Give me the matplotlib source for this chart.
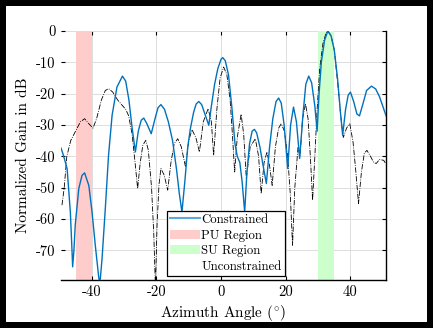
import matplotlib
matplotlib.use("Agg")
import matplotlib.pyplot as plt
from matplotlib.patches import Rectangle, Patch
from matplotlib.lines import Line2D
from matplotlib.ticker import FuncFormatter

plt.rcParams['font.family'] = ['cmr10', 'DejaVu Serif']
plt.rcParams['mathtext.fontset'] = 'cm'
plt.rcParams['axes.unicode_minus'] = False

# Constrained beampattern (azimuth deg, gain dB)
con_x = [-49.5, -48.8, -47.6, -46.6, -46.1, -45.9, -45.5, -45.1, -44.0, -43.0, -42.2,
         -40.9, -39.9, -38.9, -37.9, -37.5, -36.8, -35.8, -34.8, -33.7, -32.2, -30.5,
         -29.5, -28.5, -27.5, -26.5, -25.6, -24.7, -23.9, -23.0, -21.6, -20.3, -19.5,
         -18.6, -17.5, -16.3, -15.0, -13.8, -12.9, -12.1, -11.2, -10.3, -9.5, -8.5,
         -7.7, -6.9, -6.0, -5.0, -3.8, -3.0, -2.0, -1.0, 0.0, 0.5, 1.3, 2.3, 3.3, 4.3,
         5.0, 5.8, 6.5, 7.3, 8.0, 8.8, 9.6, 10.3, 11.0, 12.0, 13.0, 14.0, 15.0, 16.0,
         17.0, 17.8, 18.6, 19.5, 20.6, 21.5, 22.4, 23.3, 24.3, 25.3, 26.2, 27.1, 28.0,
         29.0, 29.7, 30.3, 31.0, 32.0, 33.0, 34.0, 35.0, 36.0, 37.0, 37.6, 38.5, 39.3,
         40.0, 41.0, 42.0, 42.8, 43.8, 45.0, 46.5, 47.8, 49.0, 50.0, 51.0]
con_y = [-37.4, -39.5, -44.0, -58.0, -70.0, -75.3, -70.0, -62.0, -50.3, -46.1, -45.3,
         -49.3, -57.8, -68.4, -78.0, -81.0, -72.6, -56.7, -39.7, -26.9, -17.9, -14.4,
         -16.0, -22.0, -31.0, -38.6, -32.0, -28.5, -27.8, -29.5, -32.8, -27.5, -24.5,
         -23.5, -25.0, -29.0, -35.0, -44.0, -52.0, -57.8, -48.0, -37.0, -31.2, -26.0,
         -23.3, -22.5, -23.5, -26.5, -30.1, -24.0, -17.0, -12.0, -9.0, -8.5, -9.5, -14.0,
         -24.0, -36.0, -40.0, -42.0, -48.0, -57.8, -45.0, -36.0, -32.0, -31.4, -32.5,
         -37.0, -43.0, -48.7, -37.0, -28.0, -22.5, -21.4, -23.0, -30.0, -43.9, -30.0,
         -24.3, -29.0, -40.7, -27.0, -17.0, -14.4, -16.5, -24.0, -32.0, -20.0, -10.0,
         -3.0, 0.0, -1.5, -6.0, -15.0, -27.0, -33.3, -25.0, -20.5, -19.5, -22.5, -26.5,
         -27.1, -23.5, -19.0, -17.6, -18.5, -21.0, -24.0, -27.0]

# Unconstrained beampattern
unc_x = [-49.2, -48.5, -47.7, -46.5, -45.1, -43.5, -42.2, -41.0, -39.6, -38.5, -37.0,
         -35.8, -34.8, -33.5, -32.0, -30.6, -29.5, -28.6, -27.5, -26.6, -25.8, -25.0,
         -24.2, -23.3, -22.5, -21.5, -20.8, -20.3, -19.8, -19.2, -18.6, -17.6, -16.5,
         -15.5, -14.5, -13.4, -12.3, -11.0, -10.0, -9.0, -7.8, -6.7, -5.5, -4.0, -3.0,
         -2.3, -1.3, -0.3, 0.8, 1.8, 2.8, 3.5, 4.2, 5.0, 6.2, 7.0, 7.8, 9.0, 10.6, 11.6,
         12.4, 13.3, 14.2, 15.0, 15.8, 16.8, 17.8, 18.6, 19.6, 20.6, 21.4, 22.1, 22.8,
         23.8, 24.4, 25.2, 26.1, 26.9, 27.6, 28.3, 29.0, 29.7, 30.5, 31.5, 32.5, 33.0,
         34.0, 35.0, 36.0, 37.0, 37.8, 38.8, 39.8, 40.8, 41.6, 42.5, 43.4, 44.3, 45.1,
         46.2, 47.2, 48.0, 49.0, 50.3, 51.0]
unc_y = [-55.6, -50.0, -40.0, -35.0, -32.2, -29.0, -28.0, -29.5, -31.0, -28.0, -22.0,
         -19.0, -18.4, -19.5, -22.0, -23.7, -25.0, -27.0, -33.0, -42.0, -50.3, -42.0,
         -36.5, -34.9, -38.0, -50.0, -65.0, -82.0, -62.0, -49.0, -43.9, -46.0, -50.8,
         -42.0, -36.0, -34.4, -37.0, -43.4, -35.0, -31.5, -34.0, -38.6, -29.0, -24.8,
         -29.0, -39.7, -25.0, -15.0, -11.5, -14.0, -22.0, -33.0, -45.0, -34.0, -26.6,
         -33.0, -47.1, -37.0, -34.4, -40.0, -51.9, -42.0, -38.6, -43.0, -49.3, -37.0,
         -31.0, -29.6, -32.0, -40.0, -52.0, -68.4, -50.0, -37.0, -40.0, -28.0, -23.2,
         -28.0, -40.0, -54.0, -40.0, -25.0, -12.0, -4.0, -0.5, 0.0, -1.5, -6.0, -16.0,
         -27.0, -34.0, -31.0, -29.6, -35.4, -44.0, -55.1, -45.0, -39.0, -38.1, -40.0,
         -42.0, -42.3, -41.0, -41.3, -42.5]

pu_region = [-45, -40]
su_region = [30, 35]
xticks = [-40, -20, 0, 20, 40]
yticks = [0, -10, -20, -30, -40, -50, -60, -70]

W, H = 433, 328
fig = plt.figure(figsize=(W / 100, H / 100), dpi=100, facecolor='black')
bg = Rectangle((6 / W, 6 / H), 421 / W, 316 / H, transform=fig.transFigure,
               facecolor='white', edgecolor='none', zorder=-10)
fig.patches.append(bg)
ax = fig.add_axes([61 / W, 48 / H, 325 / W, 249 / H])
ax.set_zorder(5)
ax.set_facecolor('white')

ax.axvspan(pu_region[0], pu_region[1], color='#ffcccc', lw=0, zorder=1)
ax.axvspan(su_region[0], su_region[1], color='#ccffcc', lw=0, zorder=1)

ax.plot(unc_x, unc_y, color='black', lw=0.6, ls='-.', zorder=3)
ax.plot(con_x, con_y, color='#0072BD', lw=1.0, zorder=4)

ax.set_xlim(-49.5, 51)
ax.set_ylim(-79.5, 0)
ax.set_xticks(xticks)
ax.set_yticks(yticks)
fmt = FuncFormatter(lambda v, p: '%d' % v)
ax.xaxis.set_major_formatter(fmt)
ax.yaxis.set_major_formatter(fmt)
ax.grid(True, color='#dddddd', lw=0.7, zorder=0)
ax.set_axisbelow(True)
ax.tick_params(direction='in', length=3, width=0.8, labelsize=10.5, top=True, right=True,
               pad=4)
for s in ['left', 'top']:
    ax.spines[s].set_visible(False)
for s in ['right', 'bottom']:
    ax.spines[s].set_linewidth(1.0)

ax.set_xlabel(r'Azimuth Angle ($^{\circ}$)', fontsize=11, labelpad=3)
ax.set_ylabel('Normalized Gain in dB', fontsize=11, labelpad=4)

handles = [Line2D([], [], color='#5fa8dc', lw=1.5),
           Patch(facecolor='#ffcccc', edgecolor='none'),
           Patch(facecolor='#ccffcc', edgecolor='none'),
           Line2D([], [], color='black', lw=0.3, ls='-.', alpha=0.0)]
labels = ['Constrained', 'PU Region', 'SU Region', 'Unconstrained']
leg = ax.legend(handles, labels, loc='lower left', bbox_to_anchor=(0.326, 0.015),
                fontsize=9.2, frameon=True, fancybox=False, framealpha=1,
                edgecolor='black', borderpad=0.25, labelspacing=0.28, handlelength=2.3,
                handletextpad=0.15, borderaxespad=0)
leg.get_frame().set_linewidth(0.9)
leg.set_zorder(10)

fig.savefig('out.png', dpi=100, facecolor=fig.get_facecolor())
